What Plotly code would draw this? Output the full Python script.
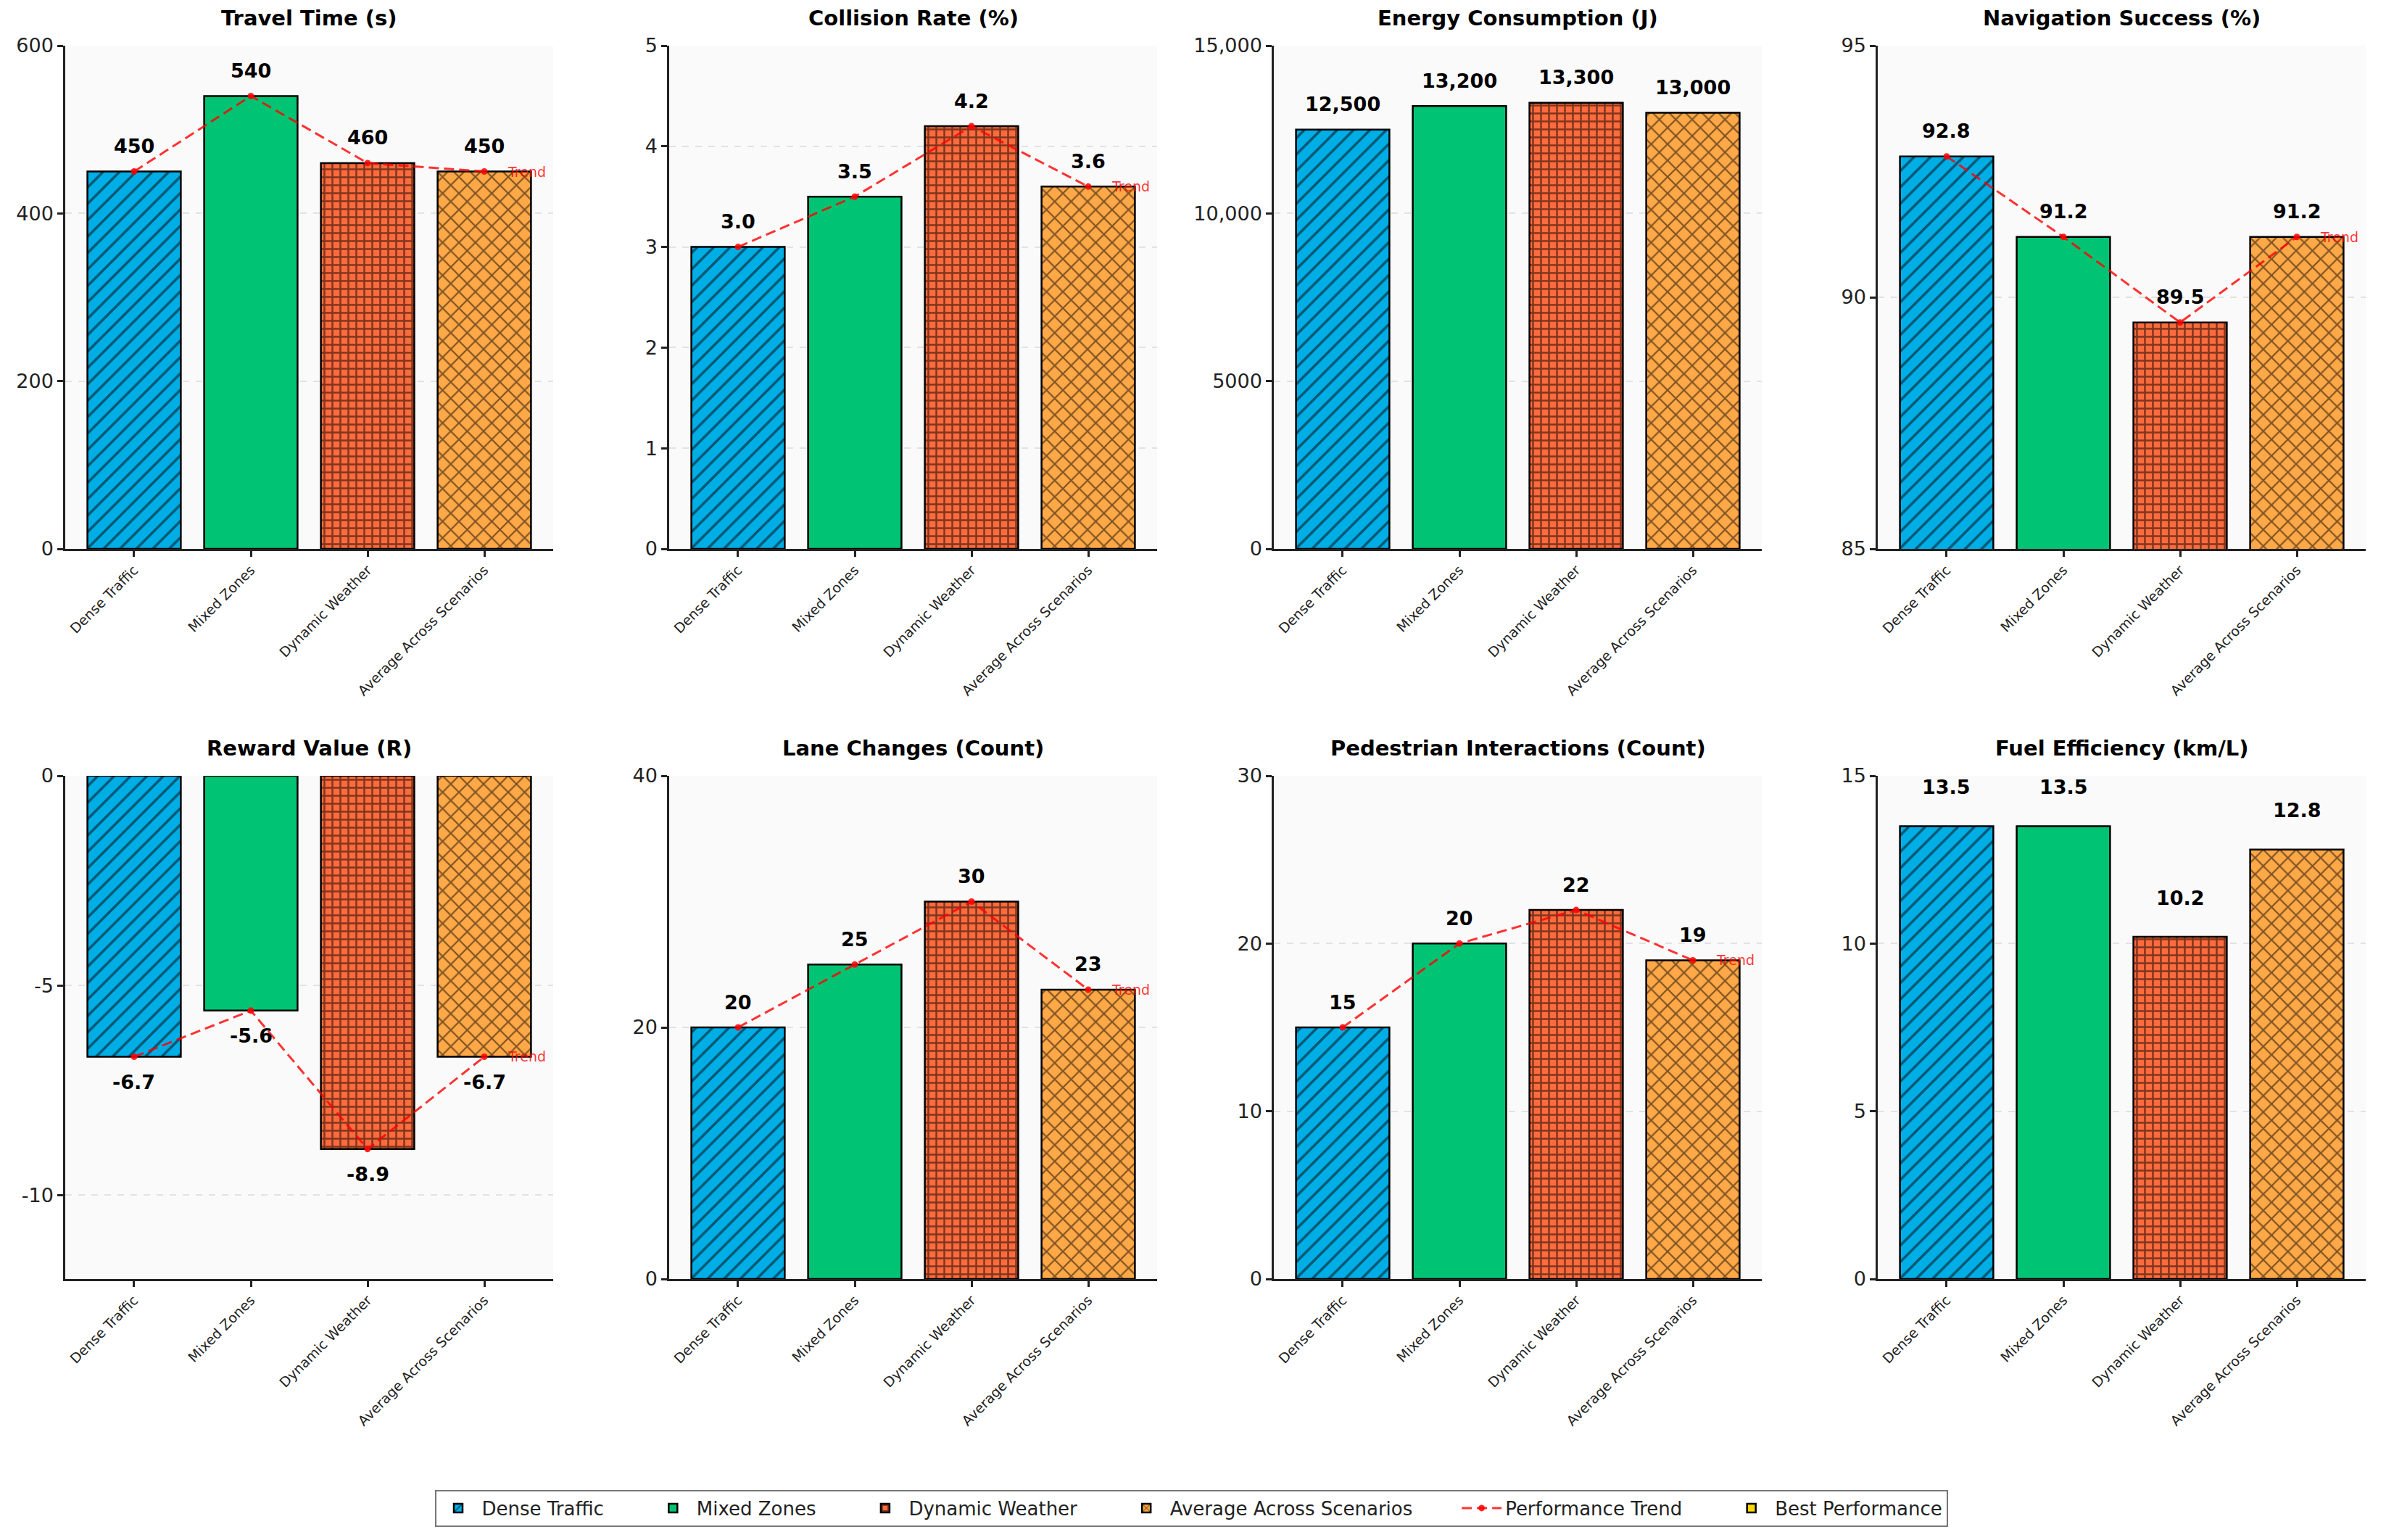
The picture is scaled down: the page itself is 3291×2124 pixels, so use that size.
import plotly.graph_objects as go

# Scenarios (one bar per scenario in every panel)
categories = ['Dense Traffic', 'Mixed Zones', 'Dynamic Weather', 'Average Across Scenarios']

# Metric values
travel_time = [450, 540, 460, 450]
collision_rate = [3.0, 3.5, 4.2, 3.6]
energy_consumption = [12500, 13200, 13300, 13000]
navigation_success = [92.8, 91.2, 89.5, 91.2]
reward_value = [-6.7, -5.6, -8.9, -6.7]
lane_changes = [20, 25, 30, 23]
pedestrian_interactions = [15, 20, 22, 19]
fuel_efficiency = [13.5, 13.5, 10.2, 12.8]

# Y tick values / labels per panel
travel_ticks = [0, 200, 400, 600]
collision_ticks = [0, 1, 2, 3, 4, 5]
energy_ticks = [0, 5000, 10000, 15000]
energy_ticktext = ['0', '5000', '10,000', '15,000']
nav_ticks = [85, 90, 95]
reward_ticks = [-10, -5, 0]
lane_ticks = [0, 20, 40]
ped_ticks = [0, 10, 20, 30]
fuel_ticks = [0, 5, 10, 15]

W, H = 3291, 2124
FONT = 'DejaVu Sans'
NBSP = '\u00a0'
PAD = NBSP * 7   # extra room between legend entries

# bar styling per scenario
fills = ['#00AEE6', '#00C473', '#FF6B3D', '#FFA847']
shapes = ['/', '', '+', 'x']
pat_sizes = [16, 10, 11, 16]
pat_solid = [0.22, 0.3, 0.4, 0.26]

panels = [
    dict(title='Travel Time (s)', vals=travel_time, ticks=travel_ticks, text=None, rng=[0, 600], fmt='{:.0f}', trend=True, off=35),
    dict(title='Collision Rate (%)', vals=collision_rate, ticks=collision_ticks, text=None, rng=[0, 5], fmt='{:.1f}', trend=True, off=35),
    dict(title='Energy Consumption (J)', vals=energy_consumption, ticks=energy_ticks, text=energy_ticktext, rng=[0, 15000], fmt='{:,.0f}', trend=False, off=35),
    dict(title='Navigation Success (%)', vals=navigation_success, ticks=nav_ticks, text=None, rng=[85, 95], fmt='{:.1f}', trend=True, off=35),
    dict(title='Reward Value (R)', vals=reward_value, ticks=reward_ticks, text=None, rng=[-12, 0], fmt='{:.1f}', trend=True, off=35),
    dict(title='Lane Changes (Count)', vals=lane_changes, ticks=lane_ticks, text=None, rng=[0, 40], fmt='{:.0f}', trend=True, off=35),
    dict(title='Pedestrian Interactions (Count)', vals=pedestrian_interactions, ticks=ped_ticks, text=None, rng=[0, 30], fmt='{:.0f}', trend=True, off=35),
    dict(title='Fuel Efficiency (km/L)', vals=fuel_efficiency, ticks=fuel_ticks, text=None, rng=[0, 15], fmt='{:.1f}', trend=False, off=54),
]

# subplot placement in pixels
col_left = [82, 915, 1749, 2582]
plot_w = 673
row_top = [55, 1062]
plot_h = 694

fig = go.Figure()
annotations = []

for i, p in enumerate(panels):
    r, c = divmod(i, 4)
    n = '' if i == 0 else str(i + 1)
    xa, ya = 'x' + n, 'y' + n
    first = i == 0

    for j, cat in enumerate(categories):
        fig.add_trace(go.Bar(
            x=[cat], y=[p['vals'][j]], name=cat + PAD, width=0.8,
            xaxis=xa, yaxis=ya, legendgroup=cat, showlegend=first,
            marker=dict(color=fills[j], line=dict(color='black', width=2.5),
                        pattern=dict(shape=shapes[j], fgcolor='black', bgcolor=fills[j],
                                     size=pat_sizes[j], solidity=pat_solid[j])),
        ))

    if p['trend']:
        fig.add_trace(go.Scatter(
            x=categories, y=p['vals'], mode='lines+markers', name='Performance Trend' + PAD,
            xaxis=xa, yaxis=ya, legendgroup='trend', showlegend=first,
            line=dict(color='rgba(255,0,0,0.8)', width=3, dash='14px,7px'),
            marker=dict(color='rgba(255,0,0,0.85)', size=9),
        ))
        annotations.append(dict(
            x=categories[-1], y=p['vals'][-1], xref=xa, yref=ya, text='Trend',
            showarrow=False, xanchor='left', yanchor='middle', xshift=30,
            font=dict(family=FONT, size=19, color='rgba(255,0,0,0.8)'),
        ))

    # value labels
    for j, cat in enumerate(categories):
        v = p['vals'][j]
        annotations.append(dict(
            x=cat, y=v, xref=xa, yref=ya, text='<b>' + p['fmt'].format(v) + '</b>',
            showarrow=False, xanchor='center', yanchor='middle',
            yshift=p['off'] if v >= 0 else -p['off'],
            font=dict(family=FONT, size=27, color='black'),
        ))

    x0 = col_left[c] / W
    x1 = (col_left[c] + plot_w) / W
    y1 = 1 - row_top[r] / H
    y0 = 1 - (row_top[r] + plot_h) / H

    annotations.append(dict(
        x=(x0 + x1) / 2, y=y1, xref='paper', yref='paper', text='<b>' + p['title'] + '</b>',
        showarrow=False, xanchor='center', yanchor='middle', yshift=38,
        font=dict(family=FONT, size=29, color='black'),
    ))

    fig.update_layout({
        'xaxis' + n: dict(
            domain=[x0, x1], anchor=ya, type='category', range=[-0.59, 3.59],
            showline=True, linecolor='#222', linewidth=2.5, mirror=False,
            ticks='outside', ticklen=8, tickwidth=2.5, tickcolor='#222',
            tickangle=-45, tickfont=dict(family=FONT, size=19, color='#222'),
            showgrid=False, zeroline=False, automargin=False,
        ),
        'yaxis' + n: dict(
            domain=[y0, y1], anchor=xa, range=p['rng'],
            tickvals=p['ticks'], ticktext=p['text'] if p['text'] else [str(t) for t in p['ticks']],
            showline=True, linecolor='#222', linewidth=2.5, mirror=False,
            ticks='outside', ticklen=8, tickwidth=2.5, tickcolor='#222',
            tickfont=dict(family=FONT, size=27, color='#222'),
            showgrid=True, gridcolor='#E2E2E2', gridwidth=1.5, griddash='dash',
            zeroline=False, automargin=False,
        ),
    })

# legend-only entry
fig.add_trace(go.Bar(
    x=[categories[0]], y=[None], name='Best Performance', xaxis='x', yaxis='y',
    marker=dict(color='#FFD700', line=dict(color='black', width=2.5)), showlegend=True,
))

fig.update_layout(
    width=W, height=H,
    margin=dict(l=0, r=0, t=0, b=0, autoexpand=False),
    paper_bgcolor='white',
    plot_bgcolor='#FAFAFA',
    barmode='overlay',
    annotations=annotations,
    font=dict(family=FONT, color='black'),
    legend=dict(
        orientation='h', x=(1643 - 8) / W, xanchor='center', y=(H - 2072) / H, yanchor='middle',
        font=dict(family=FONT, size=26, color='#222'),
        bordercolor='#777', borderwidth=2, bgcolor='white',
        itemwidth=55, tracegroupgap=0,
    ),
)

fig.write_html('out.html')
